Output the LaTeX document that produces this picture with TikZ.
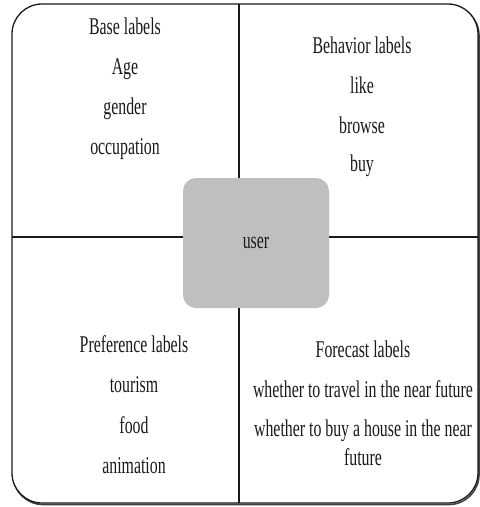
\documentclass[tikz,border=0pt]{standalone}
\usepackage{fontspec}
\setmainfont{Liberation Serif}[FakeStretch=0.66]
\definecolor{boxgray}{HTML}{BFBFBF}
\definecolor{ink}{HTML}{1A1A1A}
\begin{document}
\begin{tikzpicture}[x=1pt,y=-1pt,
  lbl/.style={anchor=base,inner sep=0pt,font=\fontsize{24}{29}\selectfont,text=ink},
  rule/.style={line width=1.5pt,draw=ink},
  framebox/.style={rounded corners=30pt,minimum width=466pt,minimum height=499pt,inner sep=0pt}]
\useasboundingbox (0,0) rectangle (480,507);
% frame with slight shadow
\node[framebox,draw=black!75,line width=1.6pt] (shadow) at (246,255) {};
\node[framebox,draw=ink,fill=white,line width=1.3pt] (frame) at (245,253.5) {};
% centre box
\node[fill=boxgray,rounded corners=13pt,minimum width=146pt,minimum height=130pt,inner sep=0pt,
      font=\fontsize{24}{29}\selectfont,text=ink] (user) at (256,243) {user};
% dividing lines
\coordinate (vt) at (239,4);
\coordinate (vb) at (239,503);
\coordinate (hl) at (12,237);
\coordinate (hr) at (478,237);
\draw[rule] (vt) -- (vt |- user.north);
\draw[rule] (vb) -- (vb |- user.south);
\draw[rule] (hl) -- (hl -| user.west);
\draw[rule] (hr) -- (hr -| user.east);
% top-left
\node[lbl] (base) at (125,34) {Base labels};
\node[lbl] (age) at (125,74) {Age};
\node[lbl] (gender) at (125,114) {gender};
\node[lbl] (occ) at (125,154) {occupation};
% top-right
\node[lbl] (beh) at (362,53) {Behavior labels};
\node[lbl] (like) at (362,93) {like};
\node[lbl] (browse) at (362,133) {browse};
\node[lbl] (buy) at (362,171) {buy};
% bottom-left
\node[lbl] (pref) at (134,352) {Preference labels};
\node[lbl] (tour) at (134,392) {tourism};
\node[lbl] (food) at (134,433) {food};
\node[lbl] (anim) at (134,473) {animation};
% bottom-right
\node[lbl] (fore) at (363,357) {Forecast labels};
\node[lbl] (travel) at (363,397) {whether to travel in the near future};
\node[lbl] (house) at (363,436) {whether to buy a house in the near};
\node[lbl] (fut) at (363,465) {future};
\end{tikzpicture}
\end{document}
